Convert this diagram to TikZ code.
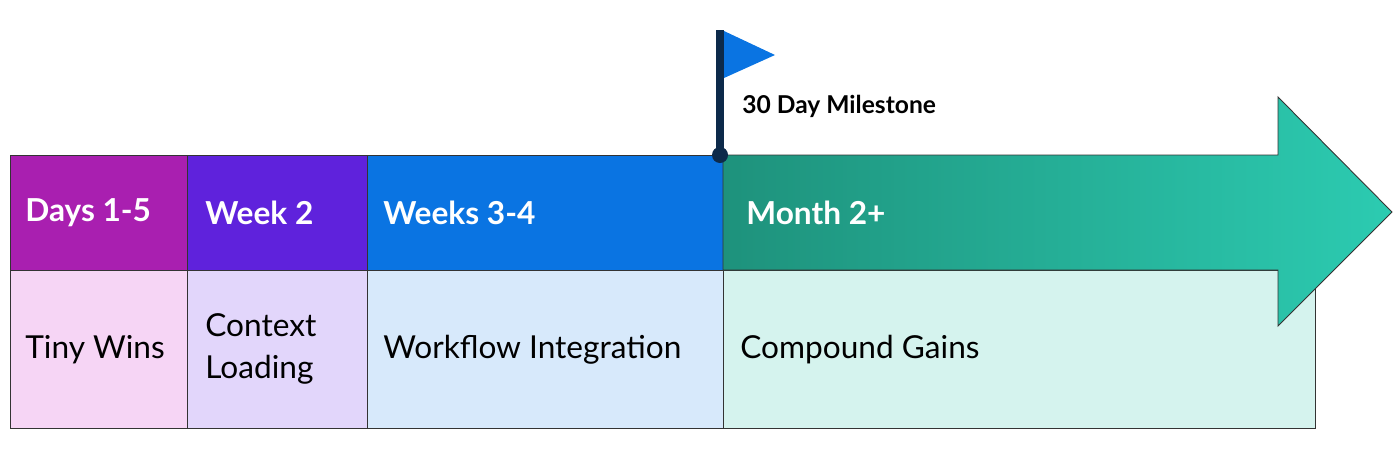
\documentclass[tikz,border=0pt]{standalone}
\usepackage{fontspec}
\setmainfont{Lato}
\usetikzlibrary{positioning}
\definecolor{cDays}{HTML}{A91FB0}
\definecolor{cWeekB}{HTML}{5F22DC}
\definecolor{cWeeks}{HTML}{0A74E2}
\definecolor{lDays}{HTML}{F6D5F5}
\definecolor{lWeekB}{HTML}{E2D6FB}
\definecolor{lWeeks}{HTML}{D7E9FB}
\definecolor{lMonth}{HTML}{D5F3EE}
\definecolor{tealA}{HTML}{1E927C}
\definecolor{tealB}{HTML}{2CCBB1}
\definecolor{pole}{HTML}{0D2A4A}
\definecolor{flag}{HTML}{0A74E2}
\tikzset{
  phase/.style={draw=black!80, line width=0.5pt, inner sep=0pt, anchor=north west},
  toptext/.style={text=white, inner sep=0pt, font=\fontsize{18}{21}\selectfont\bfseries, anchor=west},
  bottext/.style={text=black, inner sep=0pt, font=\fontsize{18}{24}\selectfont, anchor=west, align=left}
}
\begin{document}
\begin{tikzpicture}[x=0.02cm, y=-0.02cm]
\useasboundingbox (0,0) rectangle (1400,474);

% bottom row
\node[phase, fill=lDays, minimum width=177*0.02cm, minimum height=158*0.02cm] (b1) at (10,270) {};
\node[phase, fill=lWeekB, minimum width=180*0.02cm, minimum height=158*0.02cm] (b2) at (187,270) {};
\node[phase, fill=lWeeks, minimum width=356*0.02cm, minimum height=158*0.02cm] (b3) at (367,270) {};
\node[phase, fill=lMonth, minimum width=592*0.02cm, minimum height=158*0.02cm] (b4) at (723,270) {};

% top row
\node[phase, fill=cDays, minimum width=177*0.02cm, minimum height=115*0.02cm] (t1) at (10,155) {};
\node[phase, fill=cWeekB, minimum width=180*0.02cm, minimum height=115*0.02cm] (t2) at (187,155) {};
\node[phase, fill=cWeeks, minimum width=356*0.02cm, minimum height=115*0.02cm] (t3) at (367,155) {};

% arrow
\shade[left color=tealA, right color=tealB, draw=black!80, line width=0.5pt]
  (723,155) -- (1278,155) -- (1278,97) -- (1392,212) -- (1278,326)
  -- (1278,270) -- (723,270) -- cycle;

% labels
\node[toptext] at (25,213) {Days 1-5};
\node[toptext] at (205,213) {Week 2};
\node[toptext] at (383,213) {Weeks 3-4};
\node[toptext] at (746,213) {Month 2+};
\node[bottext] at (25,350) {Tiny Wins};
\node[bottext] at (205,349) {Context\\Loading};
\node[bottext] at (383,350) {Workflow Integration};
\node[bottext] at (740,350) {Compound Gains};

% milestone flag
\coordinate (poleTop) at (720,30);
\coordinate (poleBase) at (720,155);
\draw[pole, line width=4.5pt] (poleTop) -- (poleBase);
\fill[flag] (724,31) -- (775,55) -- (724,78) -- cycle;
\fill[pole] (poleBase) circle (8);
\node[anchor=west, inner sep=0pt, font=\fontsize{14}{17}\selectfont\bfseries] (ms) at (742,106) {30 Day Milestone};
\end{tikzpicture}
\end{document}
